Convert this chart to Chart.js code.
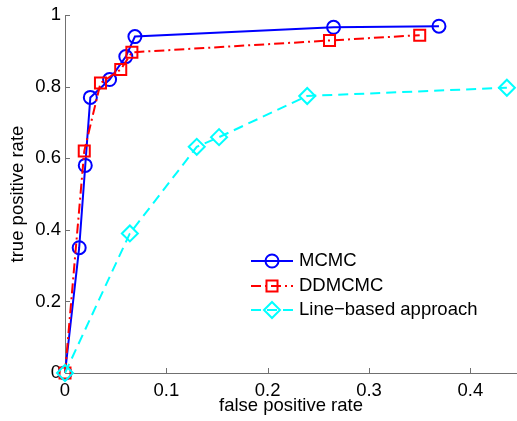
<!DOCTYPE html>
<html>
<head>
<meta charset="utf-8">
<script src="https://cdn.jsdelivr.net/npm/chart.js@4"></script>
<style>
  html, body { margin: 0; padding: 0; background: #fff; }
  #rocChart { display: block; }
</style>
</head>
<body>
<canvas id="rocChart" width="517" height="421"></canvas>
<script>
// ROC curves
const mcmcFpr = [0, 0.014, 0.020, 0.025, 0.044, 0.060, 0.069, 0.265, 0.369];
const mcmcTpr = [0, 0.350, 0.580, 0.770, 0.820, 0.884, 0.940, 0.966, 0.969];

const ddmcmcFpr = [0, 0.019, 0.035, 0.055, 0.066, 0.261, 0.350];
const ddmcmcTpr = [0, 0.620, 0.810, 0.848, 0.896, 0.929, 0.944];

const lineFpr = [0, 0.064, 0.130, 0.152, 0.239, 0.436];
const lineTpr = [0, 0.390, 0.632, 0.659, 0.774, 0.797];

const seriesNames = ['MCMC', 'DDMCMC', 'Line\u2212based approach'];
const xTitle = 'false positive rate';
const yTitle = 'true positive rate';

const FONT = 'Liberation Sans, Arial, sans-serif';
const FONT_SIZE = 18.5;
const AXIS_COLOR = '#707070';

function toPoints(xs, ys) {
    return xs.map((x, i) => ({ x: x, y: ys[i] }));
}

// plain tick text: 0, 0.2 ... 1 (no padded decimals)
function plainTick(value) {
    return String(Number(value.toFixed(3)));
}

// MATLAB style ticks pointing into the plot
const inwardTicks = {
    id: 'inwardTicks',
    beforeDatasetsDraw(chart) {
        const ctx = chart.ctx;
        const area = chart.chartArea;
        const xs = chart.scales.x;
        const ys = chart.scales.y;
        ctx.save();
        ctx.strokeStyle = AXIS_COLOR;
        ctx.lineWidth = 1;
        ctx.beginPath();
        xs.ticks.forEach(t => {
            const px = Math.round(xs.getPixelForValue(t.value)) + 0.5;
            ctx.moveTo(px, area.bottom);
            ctx.lineTo(px, area.bottom - 5);
        });
        ys.ticks.forEach(t => {
            const py = Math.round(ys.getPixelForValue(t.value)) + 0.5;
            ctx.moveTo(area.left, py);
            ctx.lineTo(area.left + 5, py);
        });
        ctx.stroke();
        ctx.restore();
    }
};

// legend with a short line and the marker on it, no frame
const lineLegend = {
    id: 'lineLegend',
    afterDraw(chart) {
        const ctx = chart.ctx;
        const x0 = 251, x1 = 293, textX = 299;
        const rows = [261, 286, 310];
        ctx.save();
        chart.data.datasets.forEach((ds, i) => {
            const y = rows[i];
            ctx.strokeStyle = ds.borderColor;
            ctx.lineWidth = ds.borderWidth;
            ctx.setLineDash(ds.borderDash || []);
            ctx.beginPath();
            ctx.moveTo(x0, y);
            ctx.lineTo(x1, y);
            ctx.stroke();
            ctx.setLineDash([]);
            ctx.lineWidth = ds.pointBorderWidth;
            ctx.strokeStyle = ds.pointBorderColor;
            ctx.fillStyle = ds.pointBackgroundColor;
            Chart.helpers.drawPoint(ctx, {
                pointStyle: ds.pointStyle,
                rotation: 0,
                radius: ds.pointRadius,
                borderWidth: ds.pointBorderWidth
            }, (x0 + x1) / 2, y);
            ctx.fillStyle = '#000';
            ctx.font = FONT_SIZE + 'px ' + FONT;
            ctx.textBaseline = 'middle';
            ctx.textAlign = 'left';
            ctx.fillText(ds.label, textX, y);
        });
        ctx.restore();
    }
};

Chart.defaults.font.family = FONT;
Chart.defaults.font.size = FONT_SIZE;
Chart.defaults.color = '#000';

const ctx = document.getElementById('rocChart');
new Chart(ctx, {
    type: 'line',
    data: {
        datasets: [{
            label: seriesNames[0],
            data: toPoints(mcmcFpr, mcmcTpr),
            borderColor: '#0000ff',
            borderWidth: 2,
            pointStyle: 'circle',
            pointRadius: 6.5,
            pointBorderWidth: 2,
            pointBorderColor: '#0000ff',
            pointBackgroundColor: 'rgba(0,0,0,0)',
            order: 2,
            clip: false
        }, {
            label: seriesNames[1],
            data: toPoints(ddmcmcFpr, ddmcmcTpr),
            borderColor: '#ff0000',
            borderWidth: 2,
            borderDash: [10, 4, 2, 4],
            pointStyle: 'rect',
            pointRadius: 7.8,
            pointBorderWidth: 2,
            pointBorderColor: '#ff0000',
            pointBackgroundColor: 'rgba(0,0,0,0)',
            order: 1,
            clip: false
        }, {
            label: seriesNames[2],
            data: toPoints(lineFpr, lineTpr),
            borderColor: '#00ffff',
            borderWidth: 2,
            borderDash: [10, 6],
            pointStyle: 'rectRot',
            pointRadius: 8,
            pointBorderWidth: 2,
            pointBorderColor: '#00ffff',
            pointBackgroundColor: 'rgba(0,0,0,0)',
            order: 0,
            clip: false
        }]
    },
    options: {
        responsive: false,
        devicePixelRatio: 1,
        animation: false,
        layout: { autoPadding: false, padding: { top: 12.5, right: 0, bottom: 0, left: 0 } },
        elements: { line: { tension: 0, fill: false } },
        plugins: {
            legend: { display: false },
            tooltip: { enabled: false }
        },
        scales: {
            x: {
                type: 'linear',
                min: 0,
                max: 0.446,
                grid: { display: false, drawTicks: false },
                border: { display: true, color: AXIS_COLOR, width: 1 },
                ticks: { stepSize: 0.1, includeBounds: false, padding: 7, maxRotation: 0, callback: plainTick },
                title: { display: true, text: xTitle, padding: { top: 0, bottom: 4 } },
                afterFit(scale) {
                    scale.height = 48;
                    scale.paddingLeft = 0;
                    scale.paddingRight = 0;
                }
            },
            y: {
                type: 'linear',
                min: 0,
                max: 1,
                grid: { display: false, drawTicks: false },
                border: { display: true, color: AXIS_COLOR, width: 1 },
                ticks: { stepSize: 0.2, padding: 4, callback: plainTick },
                title: { display: true, text: yTitle, padding: { top: 7, bottom: 0 } },
                afterFit(scale) { scale.width = 65; }
            }
        }
    },
    plugins: [inwardTicks, lineLegend]
});
</script>
</body>
</html>
